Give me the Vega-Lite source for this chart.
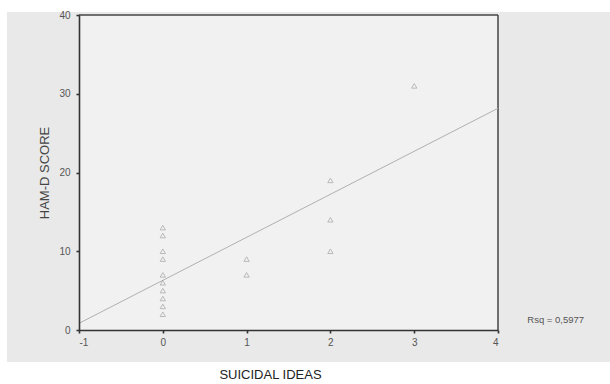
{
  "$schema": "https://vega.github.io/schema/vega-lite/v6.json",
  "width": 419,
  "height": 315,
  "autosize": {"type": "none"},
  "padding": {"left": 79, "top": 15, "right": 112, "bottom": 54},
  "background": "#ffffff",
  "config": {
    "view": {"stroke": null},
    "font": "Liberation Sans",
    "axis": {
      "domainColor": "#333333",
      "domainWidth": 1.6,
      "tickColor": "#333333",
      "tickWidth": 1.6,
      "tickSize": 3,
      "labelFont": "Liberation Sans",
      "labelFontSize": 10,
      "labelColor": "#555555",
      "titleFont": "Liberation Sans",
      "titleFontWeight": "normal",
      "grid": false
    }
  },
  "data": {
    "values": [
      {"ideas": 0, "score": 13},
      {"ideas": 0, "score": 12},
      {"ideas": 0, "score": 10},
      {"ideas": 0, "score": 9},
      {"ideas": 0, "score": 7},
      {"ideas": 0, "score": 6},
      {"ideas": 0, "score": 5},
      {"ideas": 0, "score": 4},
      {"ideas": 0, "score": 3},
      {"ideas": 0, "score": 2},
      {"ideas": 1, "score": 9},
      {"ideas": 1, "score": 7},
      {"ideas": 2, "score": 19},
      {"ideas": 2, "score": 14},
      {"ideas": 2, "score": 10},
      {"ideas": 3, "score": 31}
    ]
  },
  "encoding": {
    "x": {
      "field": "ideas", "type": "quantitative",
      "scale": {"domain": [-1, 4], "nice": false, "zero": false},
      "axis": {
        "zindex": 2,
        "title": "SUICIDAL IDEAS", "values": [-1, 0, 1, 2, 3, 4],
        "labelExpr": "replace(datum.label, '\u2212', '-')",
        "titleFontSize": 13, "titleColor": "#222222",
        "titleX": 191, "titleY": 38, "titleBaseline": "top",
        "labelPadding": 4
      }
    },
    "y": {
      "field": "score", "type": "quantitative",
      "scale": {"domain": [0, 40], "nice": false},
      "axis": {
        "zindex": 2,
        "title": "HAM-D SCORE", "values": [0, 10, 20, 30, 40],
        "titleFontSize": 13, "titleColor": "#444444",
        "titlePadding": 7, "labelPadding": 6
      }
    }
  },
  "layer": [
    {
      "transform": [{"filter": "datum.ideas == 3"}],
      "mark": {"type": "rect", "clip": false, "color": "#e9e9e9"},
      "encoding": {
        "x": {"datum": -1.86, "type": "quantitative"},
        "x2": {"datum": 5.34},
        "y": {"datum": -4.06, "type": "quantitative"},
        "y2": {"datum": 40.38}
      }
    },
    {
      "transform": [{"filter": "datum.ideas == 3"}],
      "mark": {"type": "rect", "color": "#f1f1f1"},
      "encoding": {
        "x": {"datum": -1, "type": "quantitative"},
        "x2": {"datum": 4},
        "y": {"datum": 0, "type": "quantitative"},
        "y2": {"datum": 40}
      }
    },
    {
      "transform": [{"filter": "datum.ideas == 3"}],
      "mark": {"type": "rule", "color": "#444444", "strokeWidth": 1.5},
      "encoding": {
        "x": {"datum": 4, "type": "quantitative"},
        "y": {"datum": 0, "type": "quantitative"},
        "y2": {"datum": 40}
      }
    },
    {
      "transform": [{"filter": "datum.ideas == 3"}],
      "mark": {"type": "rule", "color": "#444444", "strokeWidth": 1.5},
      "encoding": {
        "x": {"datum": -1, "type": "quantitative"},
        "x2": {"datum": 4},
        "y": {"datum": 40, "type": "quantitative"}
      }
    },
    {
      "transform": [{"regression": "score", "on": "ideas", "extent": [-1, 4]}],
      "mark": {"type": "line", "color": "#b0b0b0", "strokeWidth": 1}
    },
    {
      "mark": {"type": "point", "shape": "triangle-up", "filled": false, "color": "#9a9a9a", "size": 28, "strokeWidth": 0.9}
    },
    {
      "transform": [{"filter": "datum.ideas == 3"}],
      "mark": {"type": "text", "align": "left", "baseline": "middle", "fontSize": 9.5, "color": "#555555", "clip": false},
      "encoding": {
        "x": {"datum": 4.35, "type": "quantitative"},
        "y": {"datum": 1.3, "type": "quantitative"},
        "text": {"value": "Rsq = 0,5977"}
      }
    }
  ]
}
